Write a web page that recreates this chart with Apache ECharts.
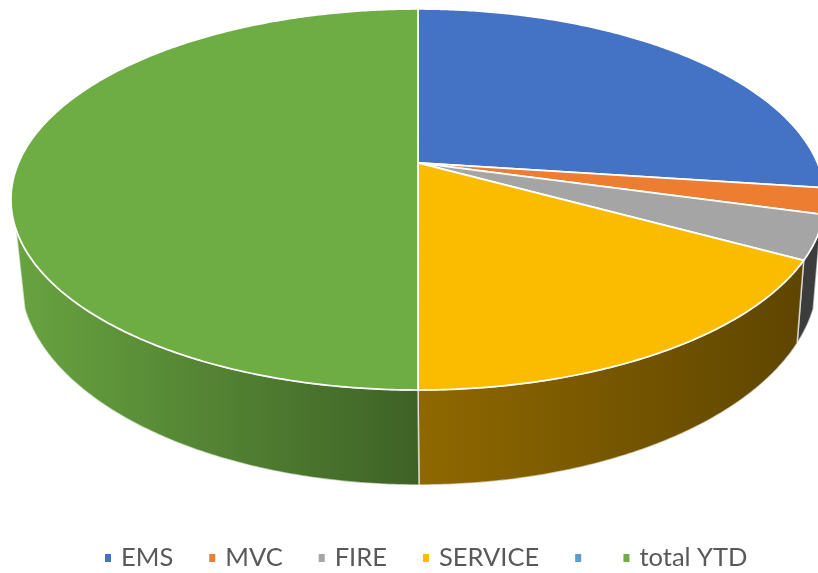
<!DOCTYPE html>
<html>
<head>
<meta charset="utf-8">
<script src="https://cdn.jsdelivr.net/npm/echarts@6/dist/echarts.min.js"></script>
<style>html,body{margin:0;padding:0;background:#fff}#c{width:818px;height:573px;filter:blur(0.55px)}</style>
</head>
<body>
<div id="c"></div>
<script>
// Data
var categories = ['EMS', 'MVC', 'FIRE', 'SERVICE', ' ', 'total YTD'];
var values = [27.1, 2.2, 3.7, 17.0, 0, 50.0];
var topColors = ['#4472c4', '#ed7d31', '#a5a5a5', '#fbbc00', '#5b9bd5', '#6eac44'];
var wallFrom = ['#2a4a80', '#8f4a1c', '#3c3c3c', '#8f6800', '#37618a', '#68a340'];
var wallTo = ['#2a4a80', '#8f4a1c', '#3c3c3c', '#5e4500', '#37618a', '#3e6226'];

// Layout of the projected disc
var K = 0.192;                       // perspective shift of the pie centre
var TOP = {cx: 418, cy: 199.5, rx: 407, ry: 190.5};
var BASE = {cx: 419, cy: 277, rx: 399, ry: 208};
var VISIBLE = [109.6, 250.4];        // clockwise degrees of the wall that can be seen

var total = values.reduce(function (a, b) { return a + b; }, 0);

function project(e, deg) {
  var t = (90 - deg) * Math.PI / 180;
  var s = Math.sin(t), c = Math.cos(t), d = 1 + K * s;
  return [e.cx + e.rx * Math.sqrt(1 - K * K) * c / d, e.cy - e.ry * (s + K) / d];
}
function arc(e, a, b) {
  var pts = [], n = Math.max(2, Math.ceil(Math.abs(b - a) * 2));
  for (var i = 0; i <= n; i++) pts.push(project(e, a + (b - a) * i / n));
  return pts;
}
function sliceItem(index) {
  return function (params, api) {
    var v = api.value(0);
    var before = values.slice(0, index).reduce(function (a, b) { return a + b; }, 0);
    var a0 = before / total * 360, a1 = (before + v) / total * 360;
    var kids = [];
    if (v <= 0) return {type: 'group', children: kids};
    var w0 = Math.max(a0, VISIBLE[0]), w1 = Math.min(a1, VISIBLE[1]);
    if (w1 > w0) {
      var topArc = arc(TOP, w0, w1), baseArc = arc(BASE, w0, w1).reverse();
      var xs = topArc.concat(baseArc).map(function (p) { return p[0]; });
      var minX = Math.min.apply(null, xs), maxX = Math.max.apply(null, xs);
      kids.push({
        type: 'polygon', z2: 1,
        shape: {points: topArc.concat(baseArc)},
        style: {
          fill: new echarts.graphic.LinearGradient(minX, 0, maxX, 0, [
            {offset: 0, color: wallFrom[index]},
            {offset: 1, color: wallTo[index]}
          ], true),
          stroke: 'rgba(255,255,255,0.6)', lineWidth: 1.6
        }
      });
    }
    kids.push({
      type: 'polygon', z2: 10,
      shape: {points: [[TOP.cx, TOP.cy - TOP.ry * K]].concat(arc(TOP, a0, a1))},
      style: {fill: topColors[index], stroke: '#fff', lineWidth: 1.7, lineJoin: 'round'}
    });
    return {type: 'group', children: kids};
  };
}

var chart = echarts.init(document.getElementById('c'), null, {renderer: 'canvas'});
chart.setOption({
  animation: false,
  backgroundColor: '#fff',
  legend: {
    left: 105, top: 545, itemWidth: 6, itemHeight: 8, itemGap: 36,
    icon: 'rect', selectedMode: false, padding: 0,
    data: categories.map(function (name) {
      return name.trim() ? {name: name} : {name: name, textStyle: {fontSize: 1, padding: [0, 0, 0, 1]}};
    }),
    textStyle: {fontFamily: 'Lato', fontSize: 25.5, color: '#595959', padding: [0, 0, 0, 5]}
  },
  series: categories.map(function (name, i) {
    return {
      type: 'custom', name: name, coordinateSystem: 'none', silent: true,
      clip: false,
      itemStyle: {color: topColors[i]},
      data: [[values[i]]],
      renderItem: sliceItem(i)
    };
  })
});
</script>
</body>
</html>
